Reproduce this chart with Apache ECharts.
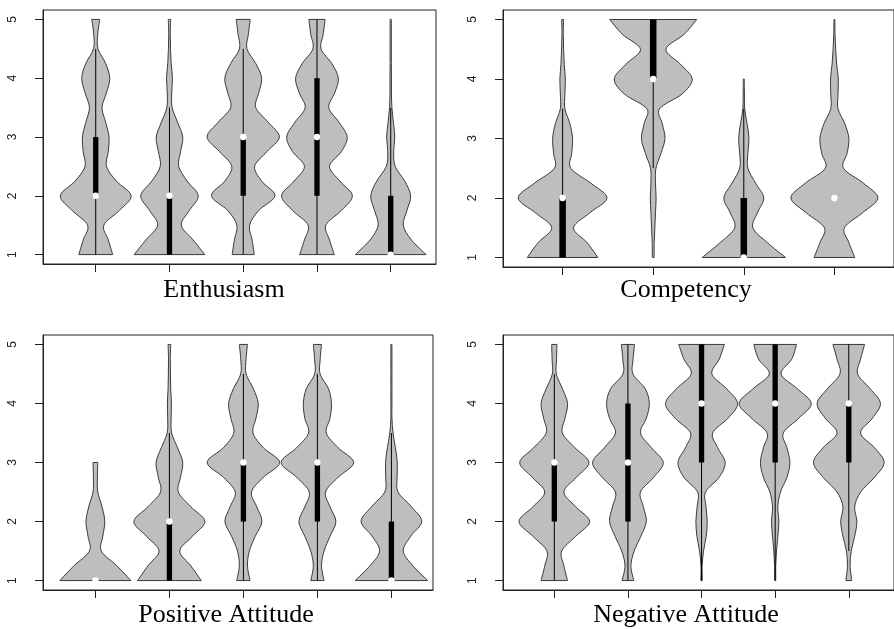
<!DOCTYPE html>
<html>
<head>
<meta charset="utf-8">
<script src="https://cdn.jsdelivr.net/npm/echarts@6/dist/echarts.min.js"></script>
<style>html,body{margin:0;padding:0;background:#fff;}#chart{width:894px;height:629px;}</style>
</head>
<body>
<div id="chart"></div>
<script>
// Levels (response scale) at which violin half-widths were read
const densityLevels = [1, 1.25, 1.5, 1.75, 2, 2.25, 2.5, 2.75, 3, 3.25, 3.5, 3.75, 4, 4.25, 4.5, 4.75, 5];
const yTickValues = [1, 2, 3, 4, 5];
const panelTitles = ['Enthusiasm', 'Competency', 'Positive Attitude', 'Negative Attitude'];

// ---- Enthusiasm (5 groups) : half-widths in x-axis units
const enthusiasmWidths = [
  [0.23, 0.17, 0.11, 0.32, 0.48, 0.28, 0.145, 0.17, 0.18, 0.135, 0.085, 0.145, 0.19, 0.135, 0.03, 0.027, 0.054],
  [0.48, 0.32, 0.16, 0.27, 0.39, 0.24, 0.125, 0.15, 0.18, 0.11, 0.036, 0.03, 0.04, 0.023, 0.014, 0.01, 0.016],
  [0.15, 0.12, 0.086, 0.21, 0.43, 0.25, 0.155, 0.32, 0.49, 0.34, 0.17, 0.21, 0.25, 0.17, 0.05, 0.07, 0.095],
  [0.235, 0.17, 0.12, 0.33, 0.48, 0.31, 0.17, 0.33, 0.41, 0.30, 0.16, 0.24, 0.29, 0.20, 0.055, 0.085, 0.11],
  [0.48, 0.28, 0.17, 0.22, 0.27, 0.19, 0.06, 0.04, 0.055, 0.036, 0.016, 0.01, 0.01, 0.008, 0.008, 0.008, 0.008]
];
const enthusiasmQ1 = [2, 1, 2, 2, 1];
const enthusiasmQ3 = [3, 2, 3, 4, 2];
const enthusiasmMedian = [2, 2, 3, 3, 1];
const enthusiasmWhiskerLow = [1, 1, 1, 1, 1];
const enthusiasmWhiskerHigh = [4.5, 3.5, 4.5, 5, 3.5];

// ---- Competency (4 groups)
const competencyWidths = [
  [0.39, 0.27, 0.12, 0.30, 0.49, 0.31, 0.09, 0.10, 0.11, 0.08, 0.025, 0.025, 0.03, 0.018, 0.011, 0.007, 0.01],
  [0.01, 0.011, 0.018, 0.025, 0.032, 0.025, 0.03, 0.086, 0.13, 0.10, 0.07, 0.32, 0.43, 0.30, 0.14, 0.34, 0.48],
  [0.46, 0.26, 0.10, 0.15, 0.22, 0.13, 0.045, 0.045, 0.057, 0.036, 0.01, 0.007, 0.005, null, null, null, null],
  [0.225, 0.16, 0.11, 0.31, 0.48, 0.32, 0.10, 0.14, 0.16, 0.115, 0.04, 0.04, 0.043, 0.025, 0.014, 0.007, 0.005]
];
const competencyQ1 = [1, 4, 1, 2];
const competencyQ3 = [2, 5, 2, 2];
const competencyMedian = [2, 4, 1, 2];
const competencyWhiskerLow = [1, 2.5, 1, 2];
const competencyWhiskerHigh = [3.5, 5, 3.5, 2];

// ---- Positive Attitude (5 groups)
const positiveWidths = [
  [0.48, 0.29, 0.08, 0.10, 0.127, 0.09, 0.032, 0.027, 0.032, null, null, null, null, null, null, null, null],
  [0.43, 0.29, 0.14, 0.31, 0.48, 0.29, 0.12, 0.15, 0.18, 0.11, 0.03, 0.023, 0.027, 0.018, 0.014, 0.012, 0.018],
  [0.09, 0.055, 0.08, 0.16, 0.25, 0.18, 0.11, 0.27, 0.49, 0.27, 0.13, 0.17, 0.20, 0.135, 0.036, 0.036, 0.055],
  [0.09, 0.055, 0.09, 0.17, 0.25, 0.17, 0.11, 0.28, 0.49, 0.28, 0.12, 0.17, 0.19, 0.15, 0.036, 0.038, 0.055],
  [0.49, 0.29, 0.16, 0.26, 0.41, 0.27, 0.09, 0.077, 0.08, 0.054, 0.022, 0.007, 0.007, 0.007, 0.007, 0.007, 0.007]
];
const positiveQ1 = [1, 1, 2, 2, 1];
const positiveQ3 = [1, 2, 3, 3, 2];
const positiveMedian = [1, 2, 3, 3, 1];
const positiveWhiskerLow = [1, 1, 1, 1, 1];
const positiveWhiskerHigh = [1, 3.5, 4.5, 4.5, 3.5];

// ---- Negative Attitude (5 groups)
const negativeWidths = [
  [0.18, 0.13, 0.10, 0.29, 0.48, 0.29, 0.13, 0.30, 0.47, 0.28, 0.11, 0.145, 0.18, 0.11, 0.027, 0.03, 0.036],
  [0.08, 0.04, 0.085, 0.175, 0.25, 0.21, 0.17, 0.35, 0.48, 0.32, 0.17, 0.25, 0.29, 0.235, 0.068, 0.07, 0.09],
  [0.01, 0.008, 0.027, 0.063, 0.077, 0.06, 0.054, 0.24, 0.32, 0.22, 0.15, 0.36, 0.49, 0.34, 0.14, 0.24, 0.31],
  [0.008, 0.008, 0.018, 0.036, 0.05, 0.036, 0.072, 0.16, 0.20, 0.16, 0.11, 0.32, 0.49, 0.30, 0.08, 0.225, 0.29],
  [0.04, 0.018, 0.032, 0.08, 0.11, 0.08, 0.16, 0.35, 0.48, 0.35, 0.16, 0.32, 0.43, 0.29, 0.12, 0.16, 0.215]
];
const negativeQ1 = [2, 2, 3, 3, 3];
const negativeQ3 = [3, 4, 5, 5, 4];
const negativeMedian = [3, 3, 4, 4, 4];
const negativeWhiskerLow = [1, 1, 1, 1, 1.5];
const negativeWhiskerHigh = [4.5, 5, 5, 5, 5];

const panels = [
  { widths: enthusiasmWidths, q1: enthusiasmQ1, q3: enthusiasmQ3, med: enthusiasmMedian, lo: enthusiasmWhiskerLow, hi: enthusiasmWhiskerHigh },
  { widths: competencyWidths, q1: competencyQ1, q3: competencyQ3, med: competencyMedian, lo: competencyWhiskerLow, hi: competencyWhiskerHigh },
  { widths: positiveWidths, q1: positiveQ1, q3: positiveQ3, med: positiveMedian, lo: positiveWhiskerLow, hi: positiveWhiskerHigh },
  { widths: negativeWidths, q1: negativeQ1, q3: negativeQ3, med: negativeMedian, lo: negativeWhiskerLow, hi: negativeWhiskerHigh }
];

// layout (pixels) and axis extents
const layout = [
  { left: 43, top: 10, width: 393, height: 254, xmin: 0.285, xmax: 5.614, tx: 224, ty: 290 },
  { left: 503, top: 10, width: 402, height: 257, xmin: 0.342, xmax: 4.658, tx: 686, ty: 290 },
  { left: 43, top: 335, width: 390, height: 255, xmin: 0.292, xmax: 5.562, tx: 226, ty: 615 },
  { left: 503, top: 335, width: 393, height: 255, xmin: 0.303, xmax: 5.614, tx: 686, ty: 615 }
];

function catmull(P) {
  let s = '';
  for (let i = 0; i < P.length - 1; i++) {
    const p0 = P[Math.max(i - 1, 0)], p1 = P[i], p2 = P[i + 1], p3 = P[Math.min(i + 2, P.length - 1)];
    const c1 = [p1[0] + (p2[0] - p0[0]) / 6, p1[1] + (p2[1] - p0[1]) / 6];
    const c2 = [p2[0] - (p3[0] - p1[0]) / 6, p2[1] - (p3[1] - p1[1]) / 6];
    s += ' C' + c1[0] + ' ' + c1[1] + ' ' + c2[0] + ' ' + c2[1] + ' ' + p2[0] + ' ' + p2[1];
  }
  return s;
}

function makeRender(p) {
  return function (params, api) {
    const i = params.dataIndex;
    const c = i + 1;
    const w = p.widths[i];
    const pts = [];
    for (let k = 0; k < densityLevels.length; k++) {
      if (w[k] == null) continue;
      pts.push([densityLevels[k], w[k]]);
    }
    const right = pts.map(q => api.coord([c + q[1], q[0]]));
    const left = pts.map(q => api.coord([c - q[1], q[0]])).reverse();
    const d = 'M' + right[0][0] + ' ' + right[0][1] + catmull(right) +
      ' L' + left[0][0] + ' ' + left[0][1] + catmull(left) + ' Z';
    const cx = api.coord([c, 3])[0];
    const bw = api.coord([c + 0.036, 3])[0] - api.coord([c - 0.036, 3])[0];
    const children = [
      { type: 'path', shape: { pathData: d }, style: { fill: '#bebebe', stroke: '#3a3a3a', lineWidth: 1 } }
    ];
    if (p.hi[i] > p.lo[i]) {
      children.push({ type: 'line', shape: { x1: cx, y1: api.coord([c, p.lo[i]])[1], x2: cx, y2: api.coord([c, p.hi[i]])[1] },
        style: { stroke: '#000', lineWidth: 1 } });
    }
    if (p.q3[i] > p.q1[i]) {
      const yq3 = api.coord([c, p.q3[i]])[1], yq1 = api.coord([c, p.q1[i]])[1];
      children.push({ type: 'rect', shape: { x: cx - bw / 2, y: yq3, width: bw, height: yq1 - yq3 }, style: { fill: '#000' } });
    }
    children.push({ type: 'circle', shape: { cx: cx, cy: api.coord([c, p.med[i]])[1], r: 3.2 }, style: { fill: '#fff' } });
    return { type: 'group', children: children };
  };
}

const grids = [], xAxes = [], yAxes = [], series = [], graphics = [];
panels.forEach((p, g) => {
  const L = layout[g];
  const n = p.widths.length;
  const cats = p.widths.map((_, i) => i + 1);
  grids.push({ left: L.left, top: L.top, width: L.width, height: L.height, show: true, borderColor: '#222', borderWidth: 1, backgroundColor: 'transparent' });
  xAxes.push({
    gridIndex: g, type: 'value', min: L.xmin, max: L.xmax,
    axisLine: { show: true, lineStyle: { color: '#222' } },
    axisTick: { show: true, customValues: cats, length: 8, lineStyle: { color: '#222' } },
    axisLabel: { show: false }, splitLine: { show: false }
  });
  yAxes.push({
    gridIndex: g, type: 'value', min: 0.84, max: 5.16,
    axisLine: { show: true, lineStyle: { color: '#222' } },
    axisTick: { show: true, customValues: yTickValues, length: 8, lineStyle: { color: '#222' } },
    axisLabel: { show: true, customValues: yTickValues, rotate: 90, margin: 24, fontFamily: 'Liberation Sans', fontSize: 12, color: '#222' },
    splitLine: { show: false }
  });
  series.push({
    type: 'custom', xAxisIndex: g, yAxisIndex: g,
    data: p.med.map((m, i) => [i + 1, m]),
    encode: { x: 0, y: 1 },
    renderItem: makeRender(p),
    silent: true
  });
  graphics.push({ type: 'text', x: L.tx, y: L.ty, style: { text: panelTitles[g], fontFamily: 'Liberation Serif', fontSize: 26, fill: '#000', align: 'center', verticalAlign: 'middle' } });
});

const chart = echarts.init(document.getElementById('chart'), null, { renderer: 'canvas', width: 894, height: 629 });
chart.setOption({
  animation: false,
  backgroundColor: '#fff',
  grid: grids, xAxis: xAxes, yAxis: yAxes, series: series, graphic: graphics
});
</script>
</body>
</html>
